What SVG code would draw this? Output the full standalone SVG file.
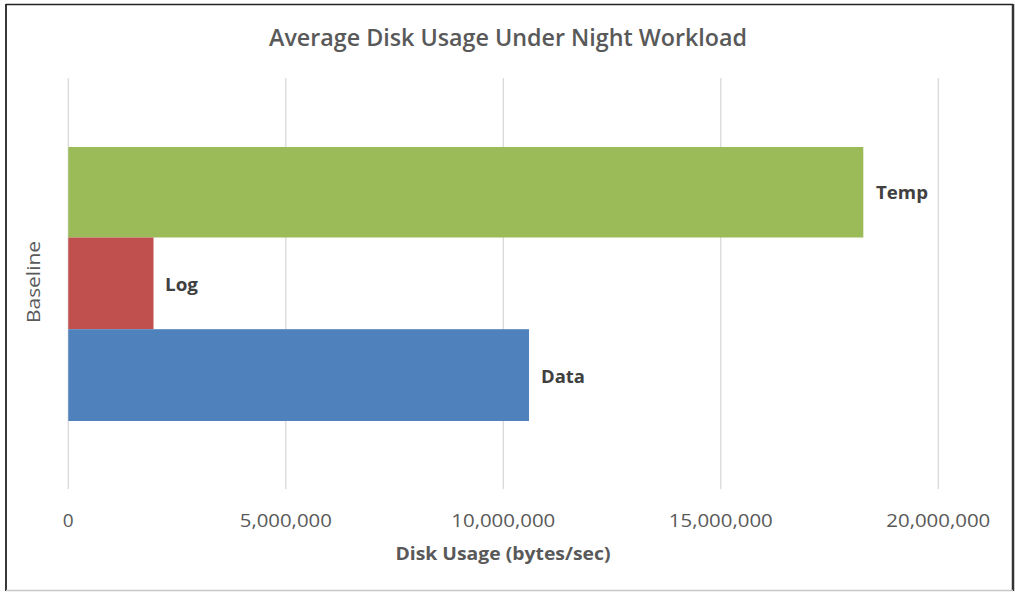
<svg xmlns="http://www.w3.org/2000/svg" width="1015" height="592" viewBox="0 0 1015 592">
<style>
.grid{stroke:#d9d9d9;stroke-width:1.3}
.tick{font-family:"Open Sans","Liberation Sans",sans-serif;font-size:19px;fill:#595959;text-anchor:middle}
.lbl{font-family:"Open Sans","Liberation Sans",sans-serif;font-size:18.5px;font-weight:bold;fill:#404040}
</style>
<rect x="0" y="0" width="1015" height="592" fill="#fff"/>
<line x1="6" y1="4.5" x2="1013" y2="4.5" stroke="#222" stroke-width="1.5"/>
<line x1="6" y1="4" x2="6" y2="591" stroke="#222" stroke-width="1.8"/>
<line x1="1013" y1="4" x2="1013" y2="591" stroke="#333" stroke-width="2.5"/>
<line x1="6" y1="590.5" x2="1013" y2="590.5" stroke="#c8c8c8" stroke-width="1.5"/>
<text x="508" y="46" font-family="'Open Sans','Liberation Sans',sans-serif" font-size="23" font-weight="600" fill="#595959" text-anchor="middle" textLength="478" lengthAdjust="spacingAndGlyphs">Average Disk Usage Under Night Workload</text>
<g id="gridlines">
<line class="grid" x1="68.3" y1="78" x2="68.3" y2="489"/>
<line class="grid" x1="285.8" y1="78" x2="285.8" y2="489"/>
<line class="grid" x1="503.3" y1="78" x2="503.3" y2="489"/>
<line class="grid" x1="720.8" y1="78" x2="720.8" y2="489"/>
<line class="grid" x1="938.3" y1="78" x2="938.3" y2="489"/>
</g>
<g id="bar-temp">
<rect x="68.3" y="147" width="795" height="90.5" fill="#9bbb59"/>
<text class="lbl" x="876" y="199" textLength="52" lengthAdjust="spacingAndGlyphs">Temp</text>
</g>
<g id="bar-log">
<rect x="68.3" y="237.5" width="85.2" height="91.7" fill="#c0504d"/>
<text class="lbl" x="165" y="291" textLength="33" lengthAdjust="spacingAndGlyphs">Log</text>
</g>
<g id="bar-data">
<rect x="68.3" y="329.2" width="460.7" height="91.8" fill="#4f81bd"/>
<text class="lbl" x="541" y="383" textLength="44" lengthAdjust="spacingAndGlyphs">Data</text>
</g>
<g id="axis-labels">
<text class="tick" x="68.3" y="527">0</text>
<text class="tick" x="285.8" y="527" textLength="92" lengthAdjust="spacingAndGlyphs">5,000,000</text>
<text class="tick" x="503.3" y="527" textLength="104" lengthAdjust="spacingAndGlyphs">10,000,000</text>
<text class="tick" x="720.8" y="527" textLength="104" lengthAdjust="spacingAndGlyphs">15,000,000</text>
<text class="tick" x="938.3" y="527" textLength="104" lengthAdjust="spacingAndGlyphs">20,000,000</text>
<text x="503" y="560" font-family="'Open Sans','Liberation Sans',sans-serif" font-size="18.5" font-weight="bold" fill="#595959" text-anchor="middle" textLength="215" lengthAdjust="spacingAndGlyphs">Disk Usage (bytes/sec)</text>
<text transform="translate(40,282) rotate(-90)" font-family="'Open Sans','Liberation Sans',sans-serif" font-size="19" fill="#595959" text-anchor="middle" textLength="82" lengthAdjust="spacingAndGlyphs">Baseline</text>
</g>
</svg>
